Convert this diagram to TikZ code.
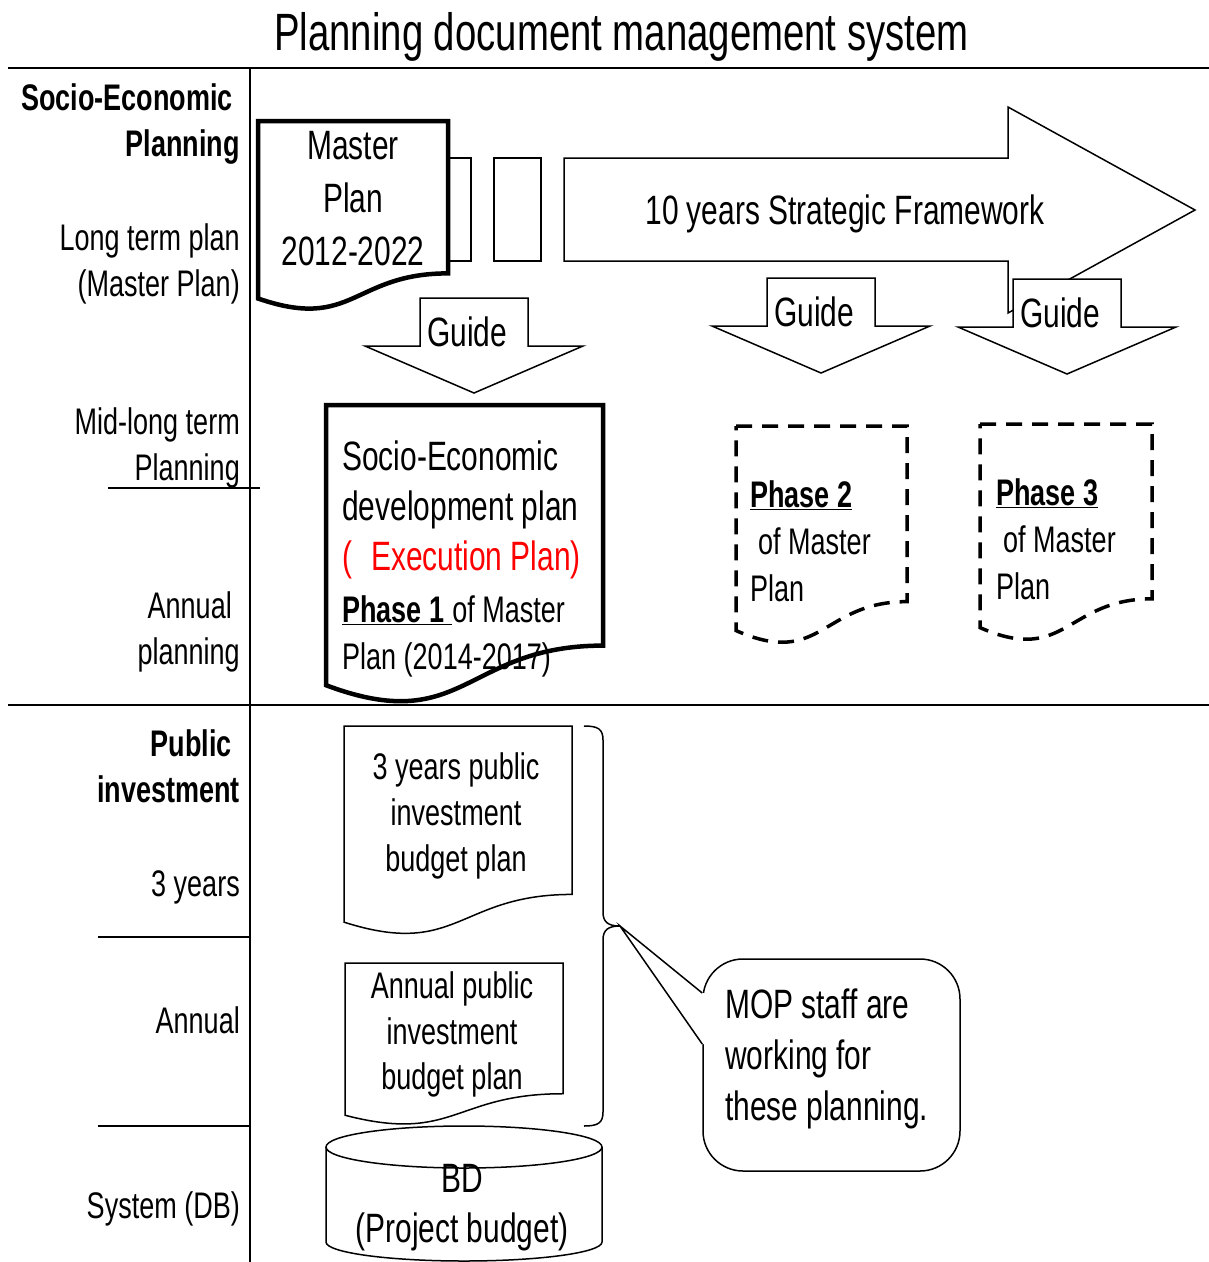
\documentclass[tikz,border=0pt]{standalone}
\usepackage{fontspec}
\setmainfont{Liberation Sans}[FakeStretch=0.73]

% wavy-bottom document: style, left, top, width, height
\newcommand{\docshape}[5]{%
  \begin{scope}[shift={(#2,#3)}, x=#4pt, y=#5pt]
    \path[#1] (0,0) -- (1,0) -- (1,-0.802)
      .. controls (0.5,-0.802) and (0.5,-1.1075) .. (0,-0.934) -- cycle;
  \end{scope}}

\tikzset{
  rule/.style={line width=1.5pt},
  lbl/.style={inner sep=0pt, font=\fontsize{37}{46}\selectfont},
  big/.style={inner sep=0pt, font=\fontsize{41}{52}\selectfont},
  thindoc/.style={draw, fill=white, line width=1.5pt},
  thickdoc/.style={draw, fill=white, line width=4.5pt},
  dashdoc/.style={draw, fill=white, line width=3.5pt, dash pattern=on 16pt off 10pt},
  blockarrow/.style={draw, fill=white, line width=1.5pt},
}

\begin{document}
\begin{tikzpicture}[x=1pt, y=1pt]
  \useasboundingbox (0,0) rectangle (1209,-1262);

  \node[inner sep=0pt, font=\fontsize{52.5}{60}\selectfont, anchor=base] (title) at (621.5,-50)
    {Planning document management system};

  % table rules
  \draw[rule] (8,-68) -- (1209,-68);
  \draw[rule] (250,-68) -- (250,-1262);
  \draw[rule] (8,-705) -- (1209,-705);
  \draw[rule] (108,-488) -- (260,-488);
  \draw[rule] (98,-937) -- (250,-937);
  \draw[rule] (98,-1126) -- (250,-1126);

  % row labels
  \node[lbl, align=right, anchor=north east, font=\bfseries\fontsize{37}{46}\selectfont] (sep) at (240,-83.5)
    {Socio-Economic\kern7pt\\Planning};
  \node[lbl, align=right, anchor=north east] (longterm) at (240,-223.5) {Long term plan\\(Master Plan)};
  \node[lbl, align=right, anchor=north east] (midterm) at (240,-407.5) {Mid-long term\\Planning};
  \node[lbl, align=right, anchor=north east] (annualplan) at (240,-591.5) {Annual\kern8pt\\planning};
  \node[lbl, align=right, anchor=north east, font=\bfseries\fontsize{37}{46}\selectfont] (pubinv) at (240,-729.5)
    {Public\kern8pt\\investment};
  \node[lbl, anchor=base east] (threeyrs) at (240,-896) {3 years};
  \node[lbl, anchor=base east] (annual) at (240,-1033) {Annual};
  \node[lbl, anchor=base east] (system) at (240,-1218) {System (DB)};

  % strategic framework arrow
  \draw[rule] (448,-158) rectangle (471,-261);
  \draw[rule] (494,-158) rectangle (541,-261);
  \path[blockarrow] (564,-158) -- (1008,-158) -- (1008,-107) -- (1195,-210)
    -- (1008,-313) -- (1008,-261) -- (564,-261) -- cycle;
  \node[big, anchor=base] (frame) at (845,-224) {10 years Strategic Framework};

  \docshape{thickdoc}{258}{-121}{190}{190}
  \node[big, align=center, anchor=north, font=\fontsize{41}{53}\selectfont] (master) at (353,-130.6)
    {Master\\Plan\\2012-2022};

  \foreach \gx/\gy/\gn in {420/298/guideA, 767/278/guideB, 1013/279/guideC}{
    \path[blockarrow] (\gx,-\gy) -- ++(108,0) -- ++(0,-48) -- ++(55,0)
      -- ++(-109,-47) -- ++(-109,47) -- ++(55,0) -- cycle;
    \node[big, anchor=base west] (\gn) at (\gx+7,-\gy-48) {Guide};
  }

  % phase documents
  \docshape{thickdoc}{326}{-405}{277}{300}
  \node[big, align=left, anchor=north west, font=\fontsize{41}{50}\selectfont] (sedp) at (342,-440.6)
    {Socio-Economic\\development plan\\\textcolor{red}{(\kern19pt Execution Plan)}};
  \node[lbl, align=left, anchor=north west, font=\fontsize{37}{47}\selectfont] (phaseA) at (342,-595.5)
    {\underline{\textbf{Phase 1}\kern8pt}of Master\\Plan (2014-2017)};

  \docshape{dashdoc}{736}{-426}{171}{219}
  \node[lbl, align=left, anchor=north west, font=\fontsize{37}{47}\selectfont] (phaseB) at (750,-480.5)
    {\underline{\textbf{Phase 2}}\\\kern8pt of Master\\Plan};

  \docshape{dashdoc}{980}{-424}{172}{218}
  \node[lbl, align=left, anchor=north west, font=\fontsize{37}{47}\selectfont] (phaseC) at (996,-478.5)
    {\underline{\textbf{Phase 3}}\\\kern7pt of Master\\Plan};

  % public investment
  \docshape{thindoc}{344}{-726}{228}{210}
  \node[lbl, align=center, anchor=north] (threeplan) at (456,-752.5)
    {3 years public\\investment\\budget plan};

  \docshape{thindoc}{345}{-963}{218}{163}
  \node[lbl, align=center, anchor=north, font=\fontsize{37}{45.5}\selectfont] (annualplan2) at (452,-971.5)
    {Annual public\\investment\\budget plan};

  \coordinate (bracetip) at (620,-926);
  \draw[rule] (584,-726) .. controls (598,-726) and (603,-729) .. (603,-740) -- (603,-912)
    .. controls (603,-922) and (608,-926) .. (bracetip)
    .. controls (608,-926) and (603,-930) .. (603,-940) -- (603,-1112)
    .. controls (603,-1123) and (598,-1126) .. (584,-1126);

  \draw[rule, fill=white] (326,-1147) -- (326,-1242)
    arc[start angle=180, end angle=360, x radius=138pt, y radius=19pt] -- (602,-1147);
  \draw[rule, fill=white] (464,-1147) ellipse[x radius=138pt, y radius=21pt];
  \node[big, align=center, anchor=north, font=\fontsize{41}{50}\selectfont] (db) at (462,-1163.6)
    {BD\\(Project budget)};

  % staff callout
  \node[draw, rule, rounded corners=40pt, minimum width=257pt, minimum height=212pt, inner sep=0pt] (mop)
    at (831.5,-1065) {};
  \fill[white] ([yshift=72pt]mop.west) -- (bracetip) -- ([yshift=21pt]mop.west)
    -- ([xshift=3pt,yshift=21pt]mop.west) -- ([xshift=3pt,yshift=72pt]mop.west) -- cycle;
  \draw[rule] ([yshift=72pt]mop.west) -- (bracetip) -- ([yshift=21pt]mop.west);
  \node[big, align=left, anchor=north west, font=\fontsize{41}{51}\selectfont] (moptext) at (725,-988.6)
    {MOP staff are\\working for\\these planning.};
\end{tikzpicture}
\end{document}
